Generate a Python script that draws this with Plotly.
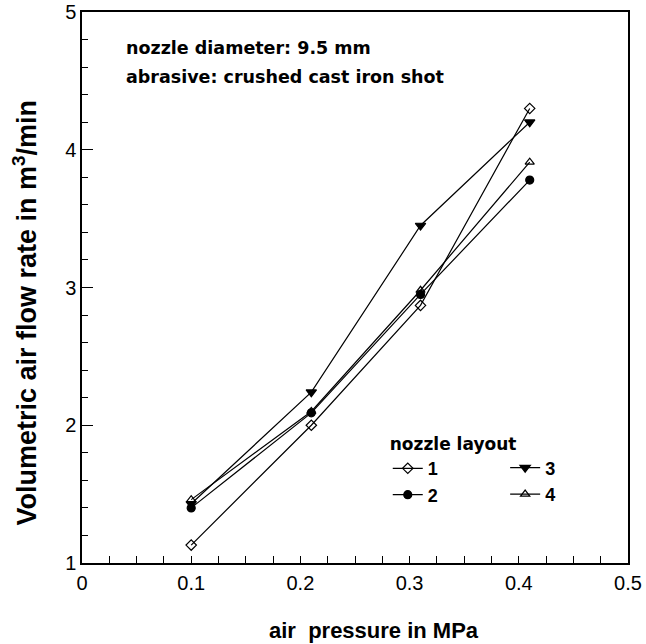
import plotly.graph_objects as go

# air pressure (MPa) at which each nozzle layout was measured
pressure = [0.1, 0.21, 0.31, 0.41]

# volumetric air flow rate (m^3/min) for each nozzle layout
layout_1 = [1.13, 2.00, 2.87, 4.30]
layout_2 = [1.40, 2.09, 2.95, 3.78]
layout_3 = [1.43, 2.24, 3.45, 4.20]
layout_4 = [1.46, 2.10, 2.98, 3.91]

series_names = ["1", "2", "3", "4"]

x_ticks = [0, 0.1, 0.2, 0.3, 0.4, 0.5]
x_tick_text = ["0", "0.1", "0.2", "0.3", "0.4", "0.5"]
y_ticks = [1, 2, 3, 4, 5]

TICK_FONT = "Liberation Sans Narrow, Liberation Sans, Arial, sans-serif"
FONT = "Liberation Sans, Arial, sans-serif"
BOLD = "DejaVu Sans, Verdana, sans-serif"

styles = {
    "1": dict(symbol="diamond-open", size=8, legend="legend"),
    "2": dict(symbol="circle", size=8, legend="legend"),
    "3": dict(symbol="triangle-down", size=9, legend="legend2"),
    "4": dict(symbol="triangle-up-open", size=8, legend="legend2"),
}

fig = go.Figure()
for name, ys in zip(series_names, [layout_1, layout_2, layout_3, layout_4]):
    st = styles[name]
    fig.add_trace(go.Scatter(
        x=pressure, y=ys, name=name, mode="lines+markers",
        line=dict(color="black", width=1.2),
        marker=dict(symbol=st["symbol"], size=st["size"], color="black",
                    line=dict(color="black", width=1.2)),
        legend=st["legend"],
    ))

axis_common = dict(
    showline=True, linecolor="black", linewidth=1.5, mirror=True,
    showgrid=False, zeroline=False, ticks="inside", tickcolor="black",
    automargin=False,
    tickfont=dict(family=TICK_FONT, size=20, color="black"),
)

fig.update_xaxes(
    range=[0, 0.5], tickvals=x_ticks, ticktext=x_tick_text, ticklen=7,
    ticklabelstandoff=1,
    minor=dict(dtick=0.025, ticks="inside", ticklen=7, tickcolor="black"),
    **axis_common,
)
fig.update_yaxes(
    range=[1, 5], tickvals=y_ticks, ticklen=11,
    minor=dict(dtick=0.2, ticks="inside", ticklen=6, tickcolor="black"),
    **axis_common,
)

# axis titles as free labels so they can sit slightly off-centre
fig.add_annotation(
    xref="paper", yref="paper", x=0.535, y=-0.122, xanchor="center", yanchor="middle",
    showarrow=False, text="<b>air  pressure in MPa</b>",
    font=dict(family=FONT, size=22, color="black"),
)
fig.add_annotation(
    xref="paper", yref="paper", x=-0.104, y=0.455, xanchor="center", yanchor="middle",
    textangle=-90, showarrow=False,
    text="<b>Volumetric air flow rate in m<sup>3</sup>/min</b>",
    font=dict(family=FONT, size=27, color="black"),
)

legend_common = dict(
    bgcolor="rgba(0,0,0,0)", borderwidth=0, tracegroupgap=0,
    font=dict(family=FONT, size=18, color="black", weight="bold"),
    xanchor="left", yanchor="top", orientation="v",
)
fig.update_layout(
    width=646, height=644,
    margin=dict(l=82, r=18, t=12, b=81),
    paper_bgcolor="white", plot_bgcolor="white",
    legend=dict(x=0.56, y=0.245,
                title=dict(text="<b>nozzle layout</b>",
                           font=dict(family=BOLD, size=17, color="black")),
                **legend_common),
    legend2=dict(x=0.775, y=0.206, **legend_common),
)

# two-line description of the test conditions
info_lines = ["nozzle diameter: 9.5 mm", "abrasive: crushed cast iron shot"]
for line, ypos in zip(info_lines, [0.935, 0.882]):
    fig.add_annotation(
        xref="paper", yref="paper", x=0.077, y=ypos, xanchor="left", yanchor="middle",
        align="left", showarrow=False, text=f"<b>{line}</b>",
        font=dict(family=BOLD, size=17.5, color="black"),
    )

fig.write_html("out.html")
